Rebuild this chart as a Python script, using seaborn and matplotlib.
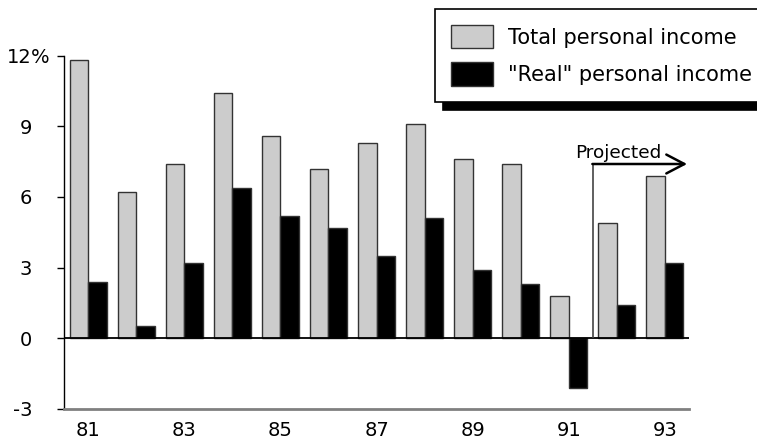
import matplotlib
matplotlib.use("Agg")
import matplotlib.pyplot as plt
import pandas as pd
import seaborn as sns

# Annual change in personal income, percent
years = ["81", "82", "83", "84", "85", "86", "87", "88", "89", "90", "91", "92", "93"]
total_income = [11.8, 6.2, 7.4, 10.4, 8.6, 7.2, 8.3, 9.1, 7.6, 7.4, 1.8, 4.9, 6.9]
real_income = [2.4, 0.5, 3.2, 6.4, 5.2, 4.7, 3.5, 5.1, 2.9, 2.3, -2.1, 1.4, 3.2]
series_names = ["Total personal income", '"Real" personal income']
y_ticks = [-3, 0, 3, 6, 9, 12]
x_tick_years = years[::2]

df = pd.DataFrame({
    "year": years + years,
    "change": total_income + real_income,
    "series": [series_names[0]] * len(years) + [series_names[1]] * len(years),
})

sns.set_theme(style="white")
plt.rcParams["font.family"] = ["DejaVu Sans"]

fig = plt.figure(figsize=(7.57, 4.45), dpi=100)
ax = fig.add_axes([64 / 757, 0.0813, 625 / 757, 0.7935])

sns.barplot(
    data=df, x="year", y="change", hue="series",
    palette=["#cccccc", "#000000"], saturation=1,
    width=0.77, gap=0, errorbar=None,
    edgecolor="#333333", linewidth=1.0, ax=ax,
)

ax.set_xlim(-0.5, 12.5)
ax.set_ylim(-3, 12)
ax.set_xlabel("")
ax.set_ylabel("")

ax.set_yticks(y_ticks)
ax.set_yticklabels([str(v) for v in y_ticks])
ax.set_xticks(range(0, len(years), 2))
ax.set_xticklabels(x_tick_years)
ax.tick_params(axis="x", bottom=False, length=0, pad=9, labelsize=14, labelcolor="black")
ax.tick_params(axis="y", left=True, length=5, width=1, direction="out", pad=18,
               labelsize=14, labelcolor="black", color="black")

# percent sign trailing the top tick label
ax.annotate("%", xy=(0, 12), xycoords=("axes fraction", "data"),
            xytext=(-23.6, 0), textcoords="offset points",
            ha="left", va="center_baseline", fontsize=14, color="black")

for side in ("top", "right"):
    ax.spines[side].set_visible(False)
ax.spines["left"].set_color("black")
ax.spines["left"].set_linewidth(1.0)
ax.spines["bottom"].set_color("#808080")
ax.spines["bottom"].set_linewidth(2.0)

ax.axhline(0, color="black", lw=1.3, zorder=3)

# bracket marking the projected years
bx, by, tip = 10.5, 7.4, 12.46
ax.plot([bx, bx], [0, by], color="#444444", lw=1.2, zorder=3, solid_capstyle="butt")
ax.annotate("", xy=(tip, by), xytext=(bx - 0.01, by),
            arrowprops=dict(arrowstyle="->,head_length=0.65,head_width=0.34",
                            mutation_scale=20, lw=1.8, color="black",
                            shrinkA=0, shrinkB=0))
ax.text(10.13, 7.67, "Projected", fontsize=13.3, ha="left", va="baseline", color="black")

old = ax.get_legend()
handles = old.legend_handles
labels = [t.get_text() for t in old.get_texts()]
old.remove()
leg = ax.legend(
    handles, labels, loc="upper left",
    bbox_to_anchor=(435 / 757, 1 - 9 / 445), bbox_transform=fig.transFigure,
    borderaxespad=0, fontsize=15, frameon=True, fancybox=False, framealpha=1,
    edgecolor="black", handlelength=2.02, handleheight=1.35, handletextpad=0.72,
    borderpad=0.77, labelspacing=0.67,
    shadow={"ox": 6, "oy": -6, "color": "black", "alpha": 1},
)
leg.get_frame().set_linewidth(1.2)
for t in leg.get_texts():
    t.set_color("black")

fig.savefig("out.png", dpi=100)
